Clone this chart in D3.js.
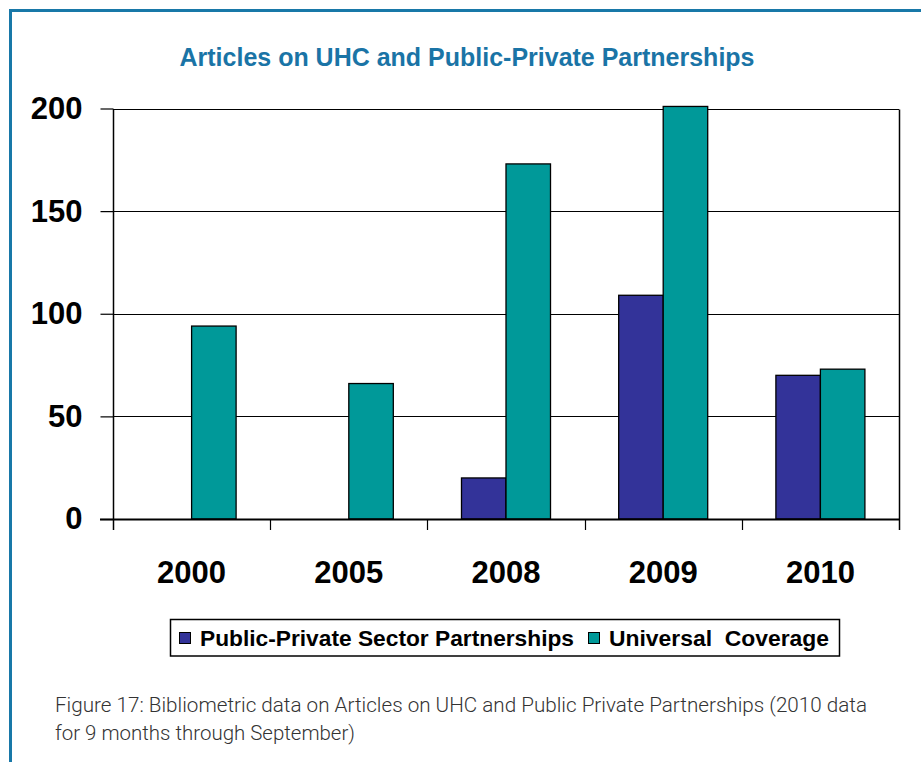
<!DOCTYPE html>
<html>
<head>
<meta charset="utf-8">
<script src="https://cdn.jsdelivr.net/npm/d3@7"></script>
<style>
html,body{margin:0;padding:0;background:#fff;}
svg{display:block;}
</style>
</head>
<body>
<script>
const categories = ["2000", "2005", "2008", "2009", "2010"];
const seriesNames = ["Public-Private Sector Partnerships", "Universal  Coverage"];
const pppValues = [0, 0, 20, 109, 70];
const ucValues = [94, 66, 173, 201, 73];
const yTicks = [0, 50, 100, 150, 200];
const titleText = "Articles on UHC and Public-Private Partnerships";
const captionLines = ["Figure 17: Bibliometric data on Articles on UHC and Public Private Partnerships (2010 data", "for 9 months through September)"];

(function () {
const colors = ["#333399", "#009999"];
const W = 921, H = 762;
const svg = d3.select("body").append("svg").attr("width", W).attr("height", H);

// frame
svg.append("path").attr("d", `M10.5,${H} L10.5,10.5 L${W},10.5`)
  .attr("fill", "none").attr("stroke", "#1878a8").attr("stroke-width", 3);

// title
svg.append("text").attr("x", 467).attr("y", 66).attr("text-anchor", "middle")
  .attr("font-family", "Liberation Sans, Arial, sans-serif").attr("font-weight", "bold")
  .attr("font-size", 26).attr("fill", "#1a74a6")
  .attr("textLength", 575).attr("lengthAdjust", "spacingAndGlyphs")
  .text(titleText);

const pL = 113, pR = 899, pT = 108.5, pB = 519;
const x0 = d3.scaleBand().domain(categories).range([pL, pR]).paddingInner(0).paddingOuter(0);
const x1 = d3.scaleBand().domain(seriesNames).range([0, x0.bandwidth()]).paddingInner(0).paddingOuter(0.766);
const y = d3.scaleLinear().domain([0, 200]).range([pB, pT]);

// gridlines
svg.append("g").selectAll("line").data(yTicks.filter(d => d > 0)).join("line")
  .attr("x1", pL).attr("x2", pR)
  .attr("y1", d => Math.round(y(d)) + 0.5).attr("y2", d => Math.round(y(d)) + 0.5)
  .attr("stroke", "#000").attr("stroke-width", 1.2);

// right border
svg.append("line").attr("x1", pR + 0.5).attr("x2", pR + 0.5)
  .attr("y1", Math.round(y(200)) + 0.5).attr("y2", pB + 11)
  .attr("stroke", "#000").attr("stroke-width", 1.5);

// bars
const data = categories.map((c, i) => ({ cat: c, vals: [pppValues[i], ucValues[i]] }));
const groups = svg.append("g").selectAll("g").data(data).join("g")
  .attr("transform", d => `translate(${x0(d.cat)},0)`);
groups.selectAll("rect").data(d => d.vals.map((v, j) => ({ v, s: seriesNames[j], j })).filter(e => e.v > 0))
  .join("rect")
  .attr("x", d => x1(d.s)).attr("width", x1.bandwidth())
  .attr("y", d => y(d.v)).attr("height", d => y(0) - y(d.v))
  .attr("fill", d => colors[d.j]).attr("stroke", "#000").attr("stroke-width", 1.3);

// y axis
const yAxis = d3.axisLeft(y).tickValues(yTicks).tickSize(13).tickPadding(18).tickFormat(d3.format("d"));
const ya = svg.append("g").attr("transform", `translate(${pL + 0.5},0)`).call(yAxis);
ya.select(".domain").attr("d", `M0,${Math.round(y(200))} V${pB + 11}`).attr("stroke", "#000").attr("stroke-width", 1.5);
ya.selectAll(".tick line").attr("stroke", "#000").attr("stroke-width", 1.2);
ya.selectAll(".tick text").attr("font-family", "Liberation Sans, Arial, sans-serif")
  .attr("font-weight", "bold").attr("font-size", 31).attr("fill", "#000");

// x axis baseline and ticks
svg.append("line").attr("x1", 100).attr("x2", pR + 1).attr("y1", pB + 0.5).attr("y2", pB + 0.5)
  .attr("stroke", "#000").attr("stroke-width", 2);
const bounds = categories.map(c => x0(c)).concat([pR]);
svg.append("g").selectAll("line").data(bounds.slice(1, -1)).join("line")
  .attr("x1", d => Math.round(d) + 0.5).attr("x2", d => Math.round(d) + 0.5)
  .attr("y1", pB).attr("y2", pB + 11).attr("stroke", "#000").attr("stroke-width", 1.2);
svg.append("g").selectAll("text").data(categories).join("text")
  .attr("x", d => x0(d) + x0.bandwidth() / 2).attr("y", 583).attr("text-anchor", "middle")
  .attr("font-family", "Liberation Sans, Arial, sans-serif").attr("font-weight", "bold")
  .attr("font-size", 31).attr("fill", "#000").text(d => d);

// legend
const lg = svg.append("g");
lg.append("rect").attr("x", 170.5).attr("y", 619.5).attr("width", 669).attr("height", 36.5)
  .attr("fill", "#fff").attr("stroke", "#000").attr("stroke-width", 1.5);
const legendItems = [
  { name: seriesNames[0], mx: 179, tx: 200, tw: 374, c: colors[0] },
  { name: seriesNames[1], mx: 588, tx: 609, tw: 220, c: colors[1] }
];
legendItems.forEach(it => {
  lg.append("rect").attr("x", it.mx + 0.5).attr("y", 632.5).attr("width", 11).attr("height", 11)
    .attr("fill", it.c).attr("stroke", "#000").attr("stroke-width", 1);
  lg.append("text").attr("x", it.tx).attr("y", 646).attr("xml:space", "preserve")
    .attr("font-family", "Liberation Sans, Arial, sans-serif").attr("font-weight", "bold")
    .attr("font-size", 22).attr("fill", "#000")
    .attr("textLength", it.tw).attr("lengthAdjust", "spacingAndGlyphs")
    .text(it.name);
});

// caption
const capW = [812, 300];
captionLines.forEach((t, i) => {
  svg.append("text").attr("x", 55).attr("y", 712 + i * 28)
    .attr("font-family", "Roboto, Liberation Sans, sans-serif").attr("font-weight", 300)
    .attr("font-size", 20).attr("fill", "#333")
    .attr("textLength", capW[i]).attr("lengthAdjust", "spacingAndGlyphs")
    .text(t);
});
})();
</script>
</body>
</html>
